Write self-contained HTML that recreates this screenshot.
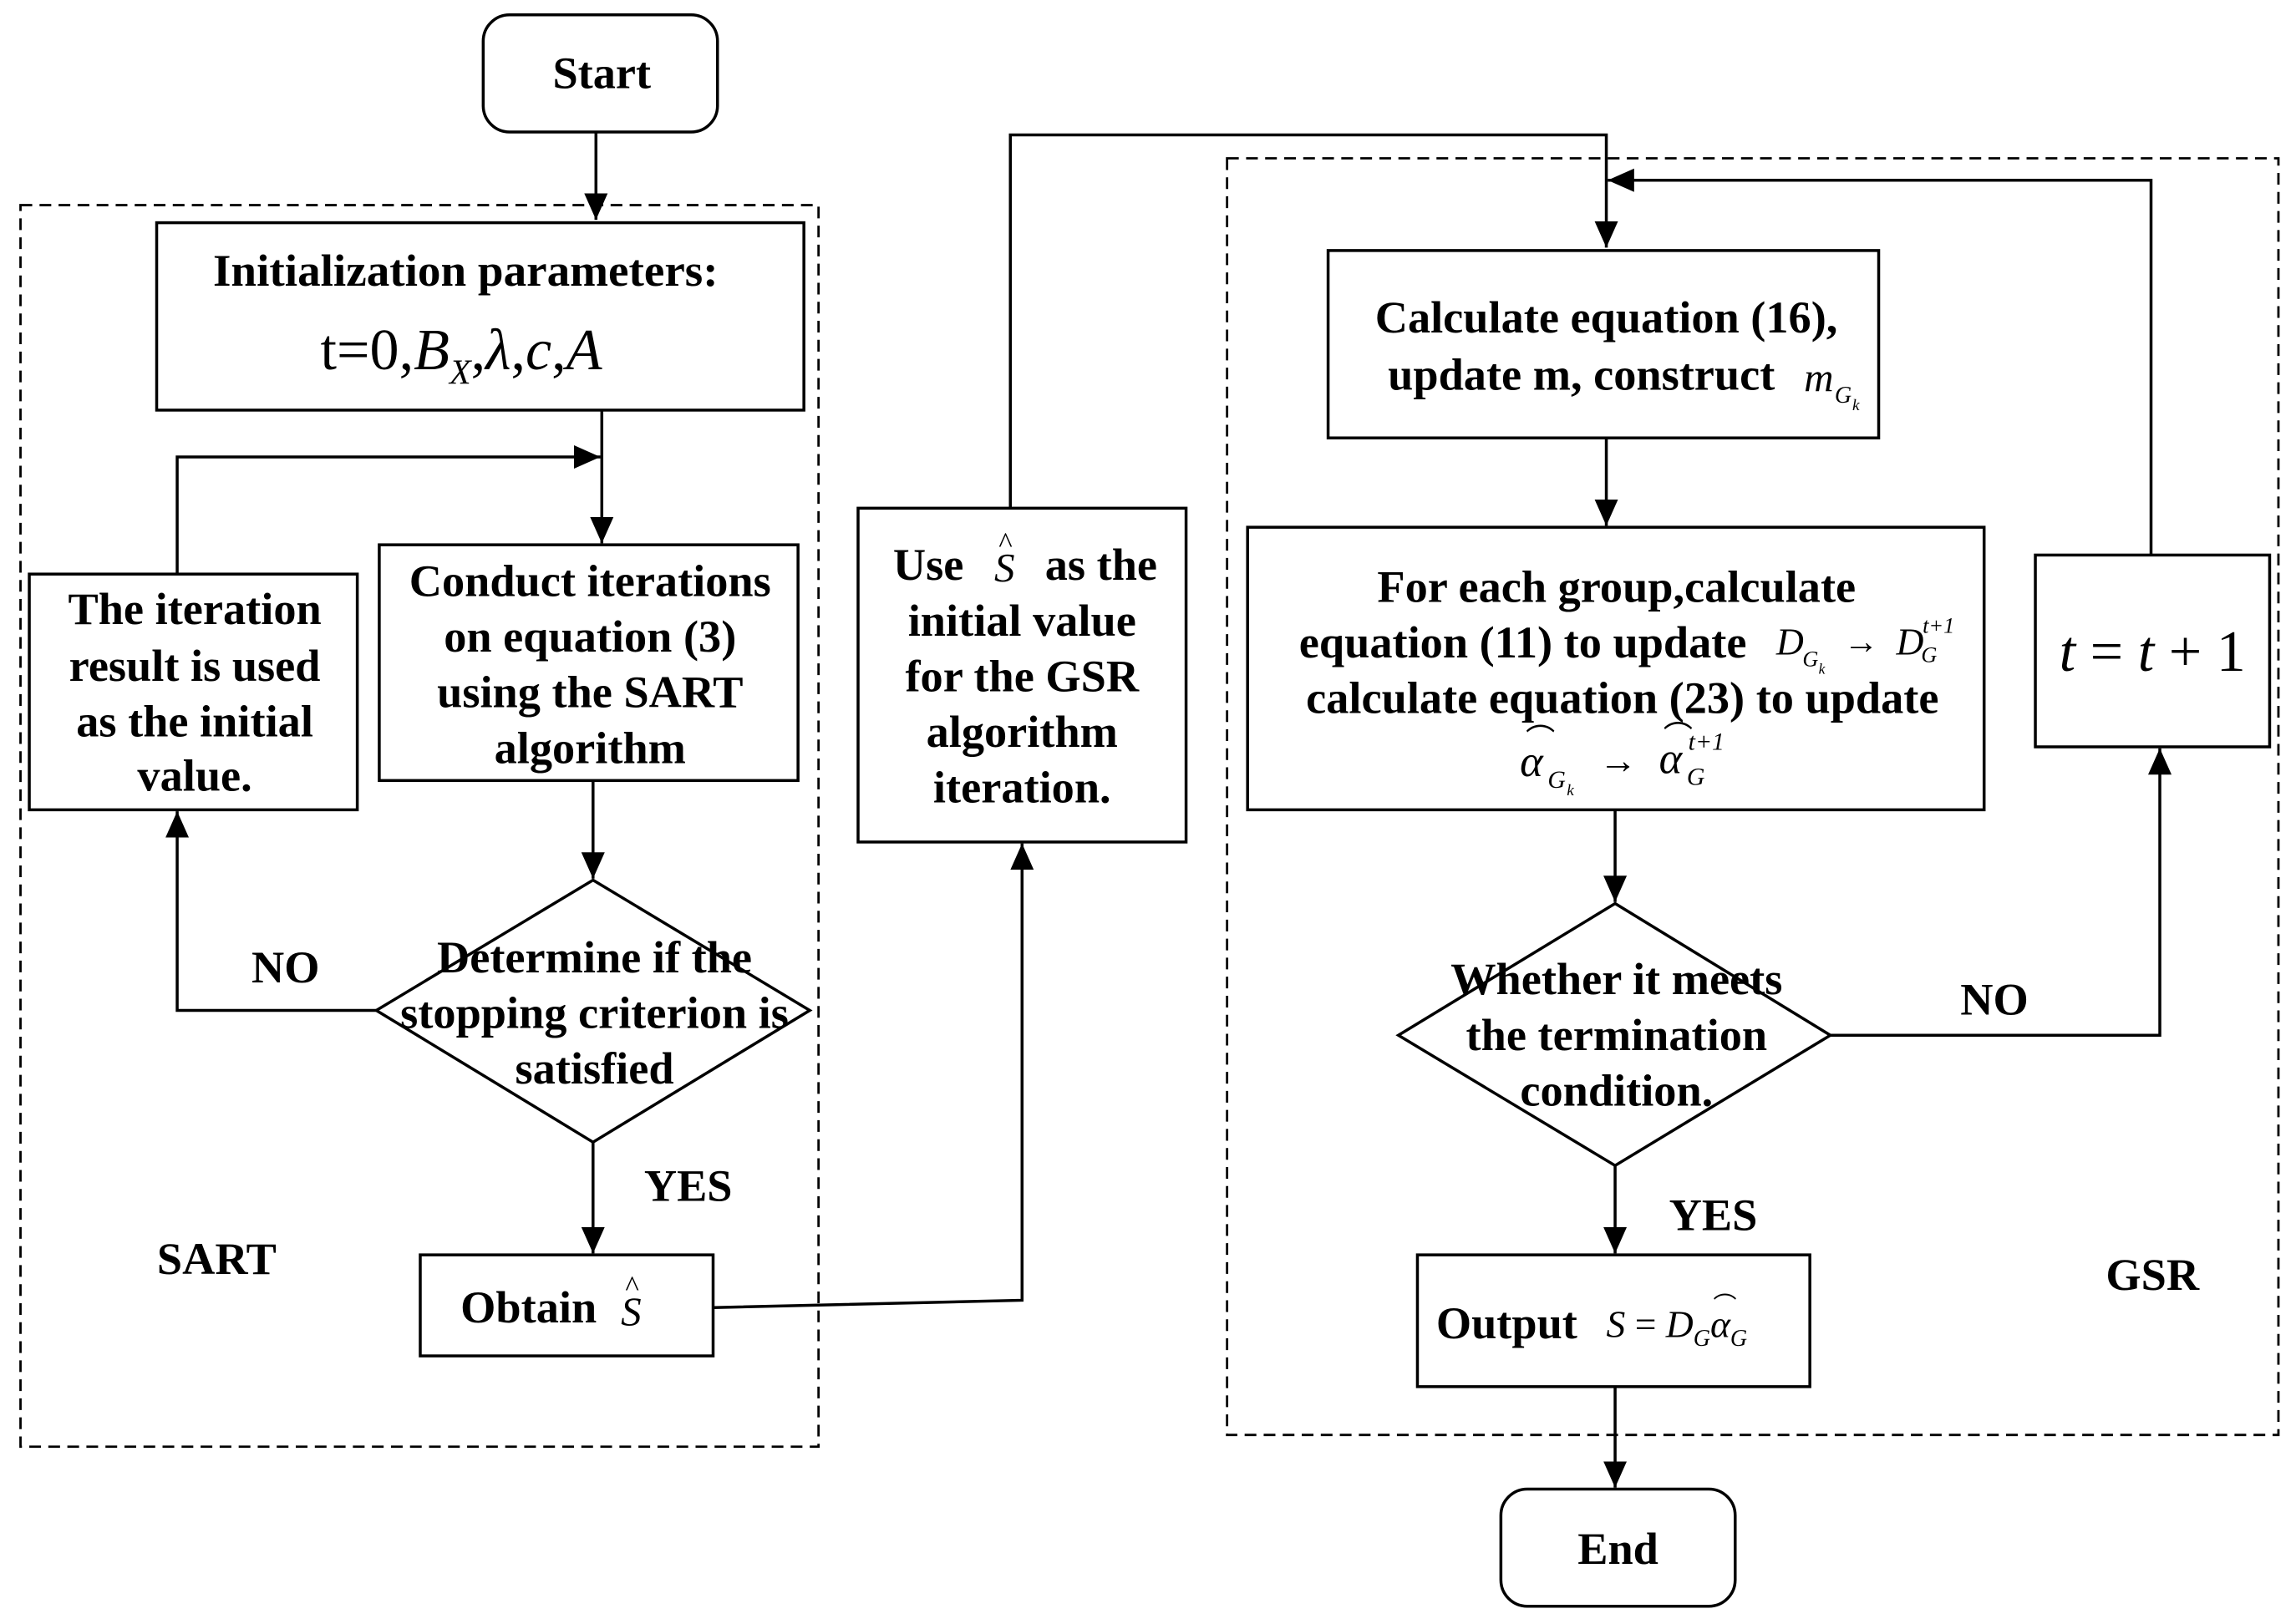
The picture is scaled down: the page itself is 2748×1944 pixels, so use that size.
<!DOCTYPE html>
<html><head><meta charset="utf-8"><style>
html,body{margin:0;padding:0;background:#fff}
svg{display:block}
.t{font-family:"Liberation Serif",serif;font-weight:bold;font-size:31px;fill:#000;text-anchor:middle}
.m{font-family:"Liberation Serif",serif;font-style:italic;fill:#000}
.b{fill:#fff;stroke:#000;stroke-width:2}
.l{fill:none;stroke:#000;stroke-width:2}
.d{fill:none;stroke:#000;stroke-width:1.6;stroke-dasharray:8,5}
</style></head><body>
<svg width="2748" height="1944" viewBox="0 0 1568 1109" xmlns="http://www.w3.org/2000/svg">
<defs>
<marker id="A" markerWidth="18" markerHeight="20" refX="18" refY="10" orient="auto" markerUnits="userSpaceOnUse" viewBox="0 0 18 20"><path d="M0,2 L18,10 L0,18 z" fill="#000"/></marker></defs>

<rect class="d" x="14" y="140" width="545" height="848"/>
<rect class="d" x="838" y="108" width="718" height="872"/>

<rect class="b" x="330" y="10" width="160" height="80" rx="18"/>
<text class="t" x="411" y="60">Start</text>
<path class="l" d="M407,90 V150" marker-end="url(#A)"/>

<rect class="b" x="107" y="152" width="442" height="128"/>
<text class="t" x="318" y="195" textLength="345" lengthAdjust="spacingAndGlyphs">Initialization parameters:</text>
<text x="315" y="252" style="font-family:'Liberation Serif',serif;font-size:40px" text-anchor="middle">t=0,<tspan font-style="italic">B</tspan><tspan font-style="italic" font-size="24" dy="10">X</tspan><tspan dy="-10">,</tspan><tspan font-style="italic">λ</tspan>,<tspan font-style="italic">c</tspan>,<tspan font-style="italic">A</tspan></text>

<path class="l" d="M411,280 V371" marker-end="url(#A)"/>
<path class="l" d="M121,392 V312 H410" marker-end="url(#A)"/>

<rect class="b" x="20" y="392" width="224" height="161"/>
<text class="t" x="133" y="426">The iteration</text>
<text class="t" x="133" y="465">result is used</text>
<text class="t" x="133" y="503">as the initial</text>
<text class="t" x="133" y="540">value.</text>

<rect class="b" x="259" y="372" width="286" height="161"/>
<text class="t" x="403" y="407">Conduct iterations</text>
<text class="t" x="403" y="445">on equation (3)</text>
<text class="t" x="403" y="483">using the SART</text>
<text class="t" x="403" y="521">algorithm</text>

<path class="l" d="M405,533 V600" marker-end="url(#A)"/>
<polygon class="b" points="405,601 553,690 405,780 257,690"/>
<text class="t" x="406" y="664">Determine if the</text>
<text class="t" x="406" y="702">stopping criterion is</text>
<text class="t" x="406" y="740">satisfied</text>
<path class="l" d="M257,690 H121 V554" marker-end="url(#A)"/>
<text class="t" x="195" y="671">NO</text>
<path class="l" d="M405,780 V856" marker-end="url(#A)"/>
<text class="t" x="470" y="820">YES</text>

<rect class="b" x="287" y="857" width="200" height="69"/>
<text class="t" x="361" y="903">Obtain</text>
<text class="m" x="424" y="905" font-size="28">S</text><text x="427" y="885" font-size="20" font-family="Liberation Serif">^</text>
<text class="t" x="148" y="870">SART</text>

<path class="l" d="M487,893 L698,888 V576" marker-end="url(#A)"/>

<rect class="b" x="586" y="347" width="224" height="228"/>
<text class="t" x="634" y="396">Use</text>
<text class="m" x="679" y="397" font-size="28">S</text><text x="682" y="377" font-size="20" font-family="Liberation Serif">^</text>
<text class="t" x="752" y="396">as the</text>
<text class="t" x="698" y="434">initial value</text>
<text class="t" x="698" y="472">for the GSR</text>
<text class="t" x="698" y="510">algorithm</text>
<text class="t" x="698" y="548">iteration.</text>

<path class="l" d="M690,347 V92 H1097 V169" marker-end="url(#A)"/>
<path class="l" d="M1469,379 V123 H1098" marker-end="url(#A)"/>

<rect class="b" x="907" y="171" width="376" height="128"/>
<text class="t" x="1097" y="227">Calculate equation (16),</text>
<text class="t" x="1080" y="266">update m,  construct</text>
<text class="m" x="1232" y="267" font-size="28">m</text><text class="m" x="1253" y="275" font-size="16">G</text><text class="m" x="1265" y="280" font-size="11">k</text>

<path class="l" d="M1097,299 V359" marker-end="url(#A)"/>
<rect class="b" x="852" y="360" width="503" height="193"/>
<text class="t" x="1104" y="411">For each group,calculate</text>
<text class="t" x="1040" y="449">equation (11) to update</text>
<text x="1213" y="447" class="m" font-size="26">D</text><text class="m" x="1231" y="455" font-size="15">G</text><text class="m" x="1242" y="460" font-size="10">k</text>
<text x="1259" y="446" font-size="24" font-family="Liberation Serif">→</text>
<text x="1295" y="447" class="m" font-size="26">D</text><text class="m" x="1312" y="452" font-size="15">G</text><text class="m" x="1313" y="432" font-size="15">t+1</text>
<text class="t" x="1108" y="487">calculate equation (23) to update</text>
<text class="m" x="1038" y="530" font-size="30">α</text><text x="1042" y="512" font-size="20" font-family="Liberation Serif">⌒</text>
<text class="m" x="1057" y="538" font-size="17">G</text><text class="m" x="1070" y="543" font-size="11">k</text>
<text x="1092" y="528" font-size="26" font-family="Liberation Serif">→</text>
<text class="m" x="1133" y="528" font-size="30">α</text><text x="1136" y="510" font-size="20" font-family="Liberation Serif">⌒</text>
<text class="m" x="1152" y="536" font-size="17">G</text><text class="m" x="1153" y="512" font-size="17">t+1</text>

<path class="l" d="M1103,553 V616" marker-end="url(#A)"/>
<polygon class="b" points="1103,617 1250,707 1103,796 955,707"/>
<text class="t" x="1104" y="679">Whether it meets</text>
<text class="t" x="1104" y="717">the termination</text>
<text class="t" x="1104" y="755">condition.</text>
<path class="l" d="M1250,707 H1475 V511" marker-end="url(#A)"/>
<text class="t" x="1362" y="693">NO</text>

<rect class="b" x="1390" y="379" width="160" height="131"/>
<text x="1470" y="458" font-size="40" font-family="Liberation Serif" text-anchor="middle"><tspan font-style="italic">t</tspan> = <tspan font-style="italic">t</tspan> + 1</text>

<path class="l" d="M1103,796 V856" marker-end="url(#A)"/>
<text class="t" x="1170" y="840">YES</text>
<rect class="b" x="968" y="857" width="268" height="90"/>
<text class="t" x="1029" y="914">Output</text>
<text x="1097" y="913" font-size="26" font-family="Liberation Serif"><tspan font-style="italic">S</tspan> = <tspan font-style="italic">D</tspan><tspan font-style="italic" font-size="16" dy="6">G</tspan><tspan font-style="italic" dy="-6">α</tspan><tspan font-style="italic" font-size="16" dy="6">G</tspan></text>
<text x="1170" y="897" font-size="16" font-family="Liberation Serif">⌒</text>
<text class="t" x="1470" y="881">GSR</text>

<path class="l" d="M1103,947 V1016" marker-end="url(#A)"/>
<rect class="b" x="1025" y="1017" width="160" height="80" rx="18"/>
<text class="t" x="1105" y="1068">End</text>
</svg>
</body></html>
